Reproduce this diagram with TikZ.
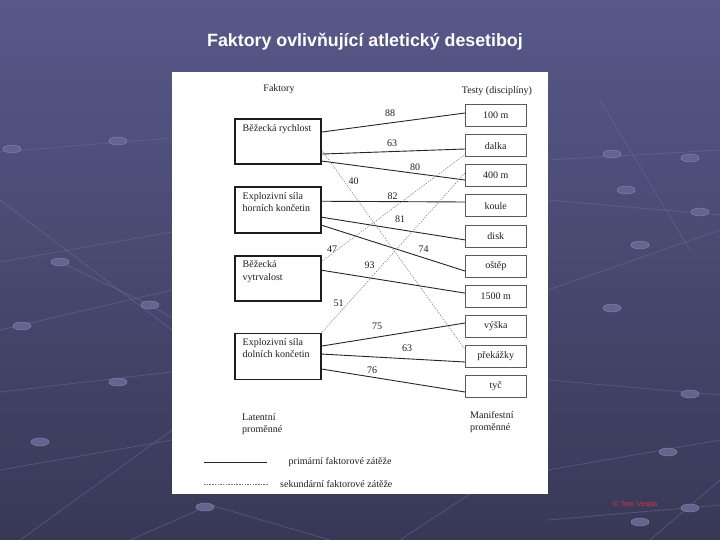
\documentclass[tikz,border=0pt]{standalone}
\usepackage{fontspec}
\setmainfont{Liberation Serif}
\newfontfamily\titlefont{Liberation Sans}
\definecolor{bgtop}{RGB}{88,88,138}
\definecolor{bgbot}{RGB}{56,56,86}
\definecolor{gridc}{RGB}{110,110,160}
\definecolor{beadc}{RGB}{100,100,145}
\definecolor{copyc}{RGB}{215,50,70}
\definecolor{inkc}{RGB}{30,30,30}
\begin{document}
\begin{tikzpicture}[x=1pt,y=-1pt,
  lbox/.style={draw=inkc, line width=1.5pt, minimum width=86pt, minimum height=45pt, inner sep=0pt},
  rbox/.style={draw=black!65, line width=0.7pt, minimum width=61pt, minimum height=22pt, inner sep=0pt,
    font=\fontsize{10}{11}\selectfont, text=inkc},
  boxtxt/.style={font=\fontsize{10}{12.5}\selectfont, align=left, anchor=north west, inner sep=0pt, text=inkc},
  lbl/.style={font=\fontsize{10}{10}\selectfont, inner sep=0.5pt, text=inkc},
  plain/.style={font=\fontsize{10}{11.5}\selectfont, inner sep=0pt, text=inkc},
  prim/.style={draw=black!85, line width=0.9pt},
  sec/.style={draw=black!55, line width=0.45pt, dash pattern=on 1.5pt off 1.2pt},
  gridl/.style={draw=gridc, line width=0.8pt, opacity=0.5},
  bead/.style={fill=beadc, draw=gridc!80!white, line width=0.4pt}
]
% background
\shade[top color=bgtop, bottom color=bgbot] (0pt,0pt) rectangle (720pt,-540pt);
\useasboundingbox (0pt,0pt) rectangle (720pt,-540pt);
% background lattice (decorative)
\draw[gridl] (0,152) -- (172,138);
\draw[gridl] (0,262) -- (172,232);
\draw[gridl] (0,330) -- (172,290);
\draw[gridl] (0,392) -- (172,372);
\draw[gridl] (0,470) -- (172,440);
\draw[gridl] (20,540) -- (172,430);
\draw[gridl] (0,200) -- (172,330);
\draw[gridl] (60,262) -- (150,305);
\draw[gridl] (150,305) -- (172,318);
\draw[gridl] (130,540) -- (210,505);
\draw[gridl] (210,505) -- (330,540);
\draw[gridl] (548,160) -- (720,150);
\draw[gridl] (548,200) -- (720,215);
\draw[gridl] (548,290) -- (720,230);
\draw[gridl] (548,380) -- (720,395);
\draw[gridl] (548,470) -- (720,440);
\draw[gridl] (548,520) -- (720,505);
\draw[gridl] (600,100) -- (690,250);
\draw[gridl] (650,540) -- (720,480);
\draw[gridl] (400,540) -- (470,494);
\foreach \bx/\by in {12/149,118/141,60/262,150/305,22/326,118/382,40/442,205/507,
  612/154,690/158,626/190,700/212,640/245,612/308,690/394,668/452,690/508,640/522}
  {\fill[bead] (\bx,\by) ellipse [x radius=9pt, y radius=4pt];}
% white panel
\fill[white] (172,72) rectangle (548,494);
% title
\node[font=\titlefont\bfseries\fontsize{17.8}{20}\selectfont, text=white, anchor=base, inner sep=0pt]
  (title) at (365,47) {Faktory ovlivňující atletický desetiboj};
% headings
\node[plain] (hf) at (279,89) {Faktory};
\node[plain] (ht) at (497,91) {Testy (disciplíny)};
% left boxes
\node[lbox] (f1) at (278,141.3) {};
\node[lbox, minimum height=46pt] (f2) at (278,210) {};
\node[lbox] (f3) at (278,278.5) {};
\node[lbox, minimum height=46pt] (f4) at (278,356.3) {};
\node[boxtxt] (f1t) at (242.5,124.5) {Běžecká rychlost};
\node[boxtxt] (f2t) at (242.5,192) {Explozivní síla\\horních končetin};
\node[boxtxt] (f3t) at (242.5,260.5) {Běžecká\\vytrvalost};
\node[boxtxt] (f4t) at (242.5,338) {Explozivní síla\\dolních končetin};
% right boxes
\node[rbox] (r1) at (495.8,115.5) {100 m};
\node[rbox] (r2) at (495.8,145.6) {dalka};
\node[rbox] (r3) at (495.8,175.7) {400 m};
\node[rbox] (r4) at (495.8,205.8) {koule};
\node[rbox] (r5) at (495.8,235.9) {disk};
\node[rbox] (r6) at (495.8,266.0) {oštěp};
\node[rbox] (r7) at (495.8,296.1) {1500 m};
\node[rbox] (r8) at (495.8,326.2) {výška};
\node[rbox] (r9) at (495.8,356.3) {překážky};
\node[rbox] (r10) at (495.8,386.4) {tyč};
% primary loadings
\draw[prim] ([yshift=-14pt]f1.north east) -- ([yshift=2.5pt]r1.west);
\draw[prim] ([yshift=-36pt]f1.north east) -- ([yshift=-3.4pt]r2.west);
\draw[prim] ([yshift=-43pt]f1.north east) -- ([yshift=-4.3pt]r3.west);
\draw[prim] ([yshift=-15pt]f2.north east) -- ([yshift=3.8pt]r4.west);
\draw[prim] ([yshift=-31pt]f2.north east) -- ([yshift=-4pt]r5.west);
\draw[prim] ([yshift=-39pt]f2.north east) -- ([yshift=-5pt]r6.west);
\draw[prim] ([yshift=-15pt]f3.north east) -- ([yshift=3pt]r7.west);
\draw[prim] ([yshift=-13.5pt]f4.north east) -- ([yshift=3.2pt]r8.west);
\draw[prim] ([yshift=-21.5pt]f4.north east) -- ([yshift=-5.7pt]r9.west);
\draw[prim] ([yshift=-36.5pt]f4.north east) -- ([yshift=-5.6pt]r10.west);
% secondary loadings
\draw[sec] ([yshift=-32pt]f1.north east) -- ([yshift=7pt]r9.west);
\draw[sec] ([yshift=-6pt]f3.north east) -- ([yshift=-9pt]r2.west);
\draw[sec] (f4.north east) -- ([yshift=2.7pt]r3.west);
% loading labels
\node[lbl] (l88) at (390,113.5) {88};
\node[lbl] (l63a) at (392,143) {63};
\node[lbl] (l80) at (415,167) {80};
\node[lbl] (l40) at (353.5,181.5) {40};
\node[lbl] (l82) at (392.5,196.5) {82};
\node[lbl] (l81) at (400,219) {81};
\node[lbl] (l47) at (332,249.5) {47};
\node[lbl] (l74) at (423.5,249.5) {74};
\node[lbl] (l93) at (369.5,265) {93};
\node[lbl] (l51) at (338.5,303) {51};
\node[lbl] (l75) at (377,326.5) {75};
\node[lbl] (l63b) at (407,348) {63};
\node[lbl] (l76) at (372,370) {76};
% latent / manifest captions
\node[plain, align=left, anchor=west] (lat) at (242,424) {Latentní\\proměnné};
\node[plain, align=left, anchor=west] (man) at (470,422) {Manifestní\\proměnné};
% legend
\coordinate (lg1a) at (204,462);
\coordinate (lg1b) at (267,462);
\coordinate (lg2a) at (204,484);
\coordinate (lg2b) at (268,484);
\draw[prim] (lg1a) -- (lg1b);
\draw[sec] (lg2a) -- (lg2b);
\node[plain, anchor=west] (lgt1) at (288.5,462) {primární faktorové zátěže};
\node[plain, anchor=west] (lgt2) at (280,484) {sekundární faktorové zátěže};
% copyright
\node[font=\titlefont\fontsize{7.5}{9}\selectfont, text=copyc, inner sep=0pt] (copy) at (635,505) {© Tom Vespa};
\end{tikzpicture}
\end{document}
